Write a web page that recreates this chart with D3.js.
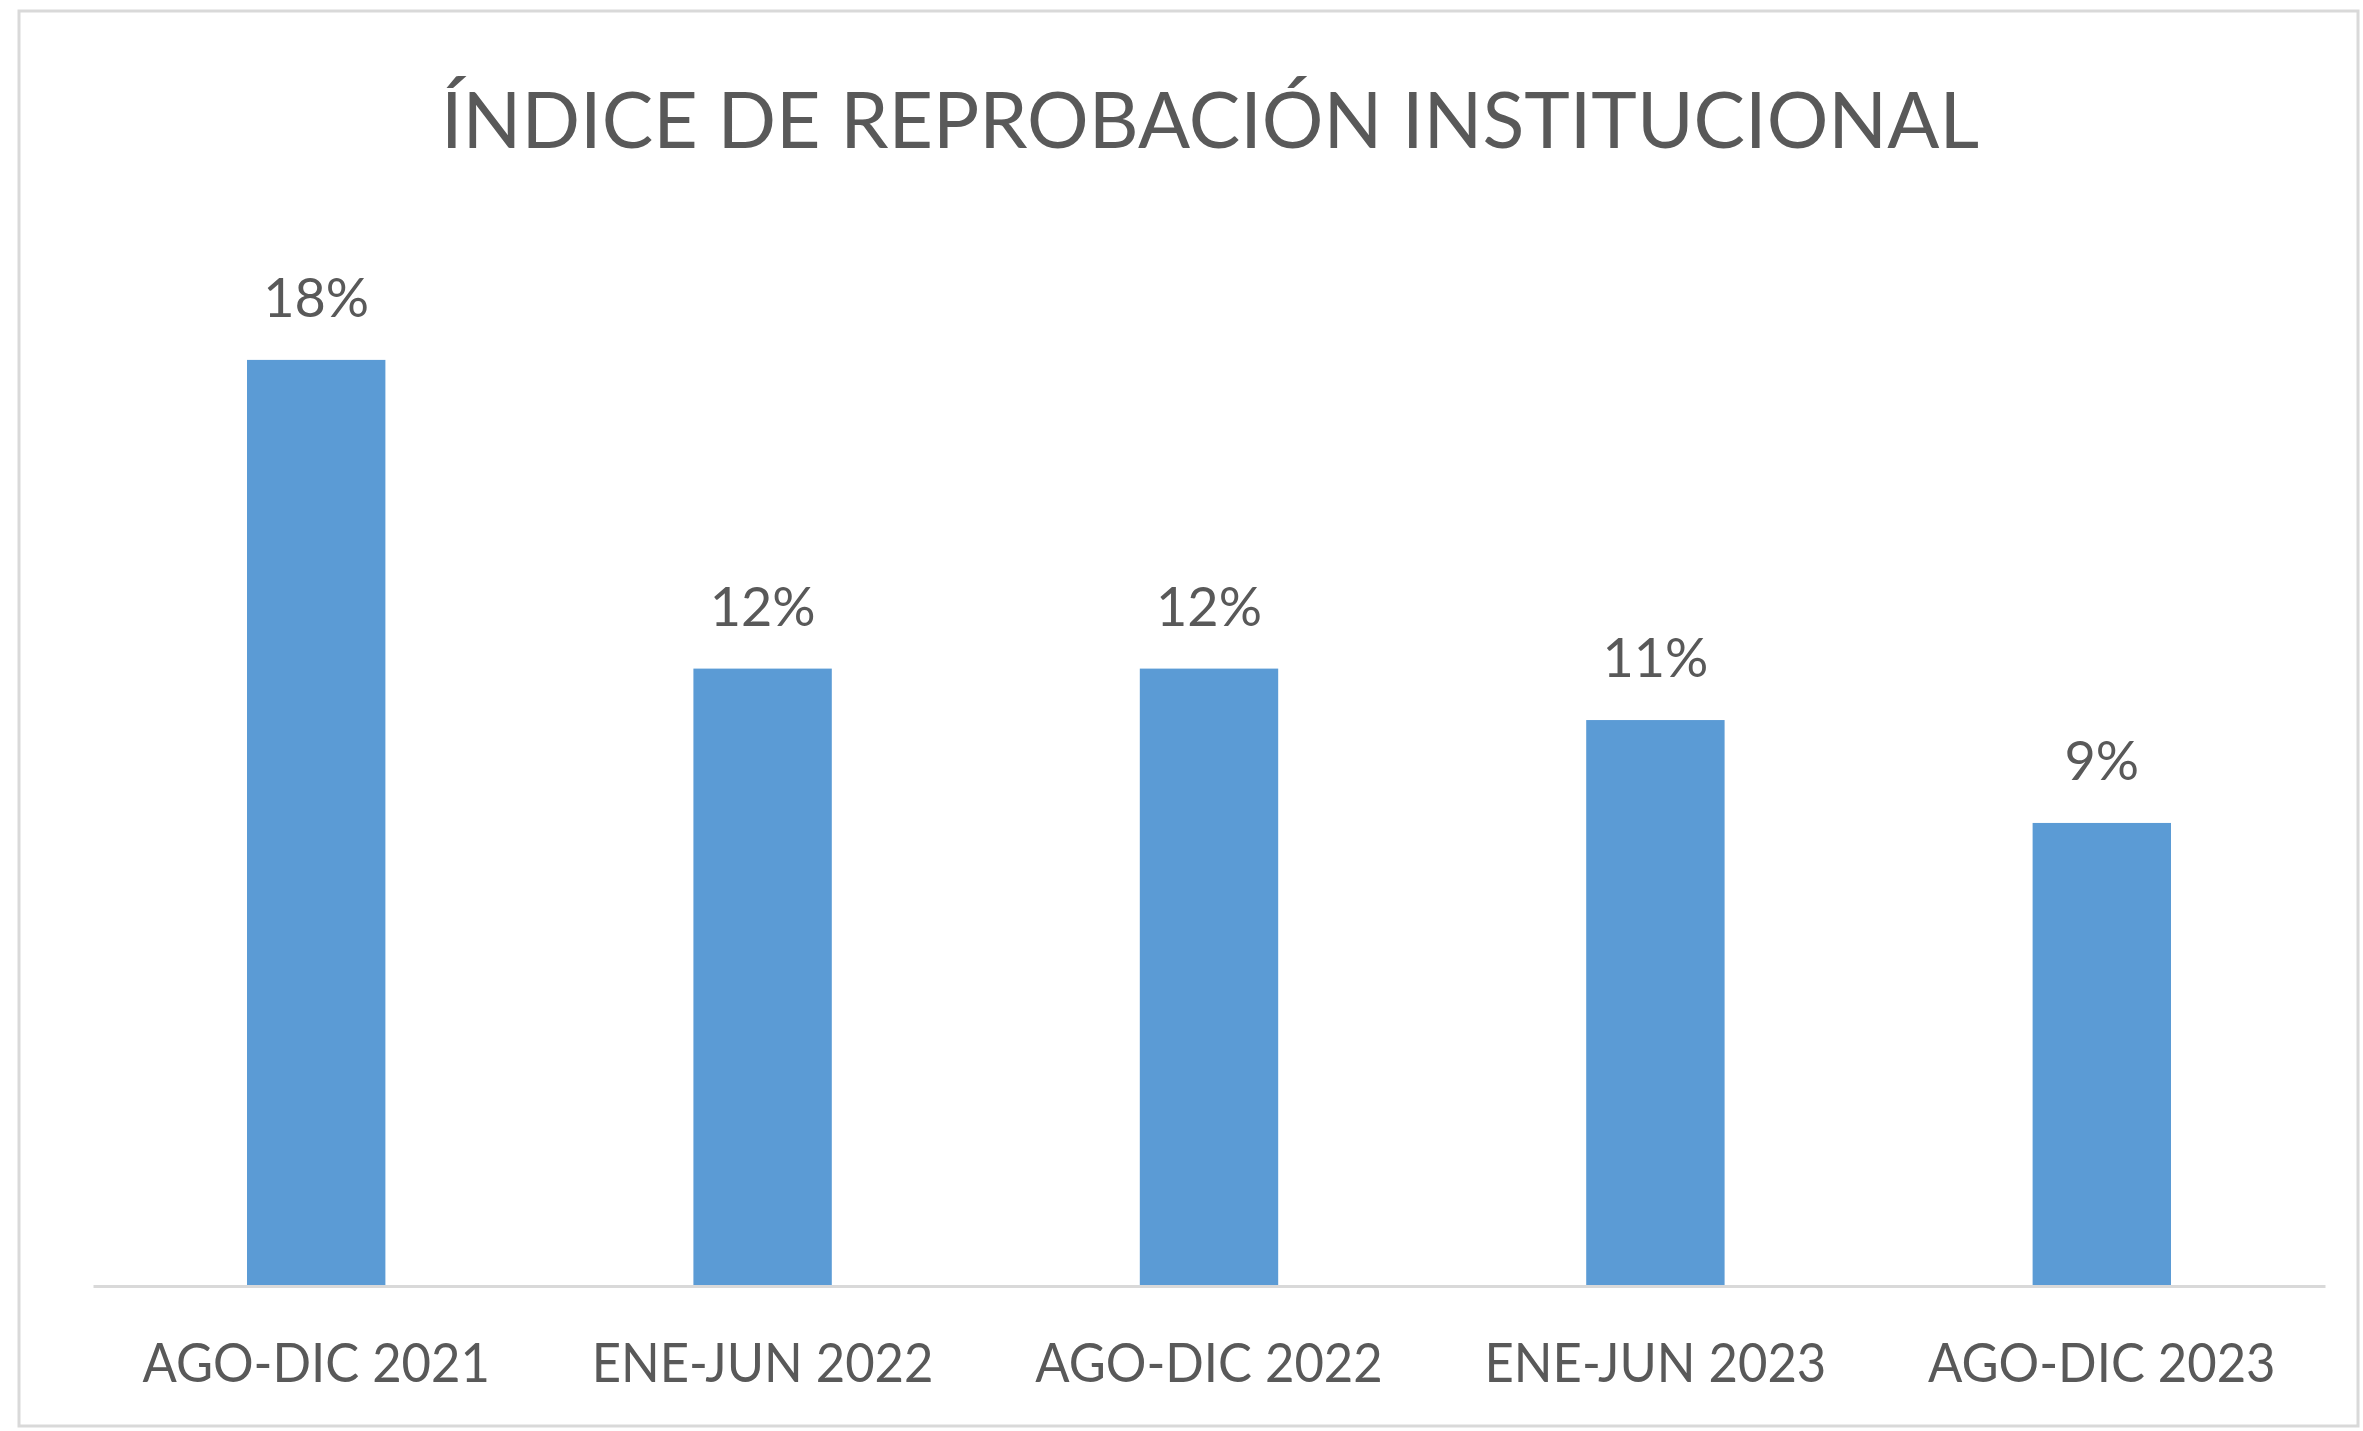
<!DOCTYPE html>
<html><head><meta charset="utf-8">
<script src="https://cdn.jsdelivr.net/npm/d3@7"></script>
<style>html,body{margin:0;padding:0;background:#fff;}svg{display:block;}</style>
</head><body>
<script>
const titleText = "ÍNDICE DE REPROBACIÓN INSTITUCIONAL";
const categories = ["AGO-DIC 2021","ENE-JUN 2022","AGO-DIC 2022","ENE-JUN 2023","AGO-DIC 2023"];
const values = [0.18, 0.12, 0.12, 0.11, 0.09];
const valueLabels = ["18%","12%","12%","11%","9%"];

const W = 2363, H = 1431;
const svg = d3.select("body").append("svg").attr("width", W).attr("height", H);
const font = "Lato, 'Open Sans', sans-serif";
const textColor = "#595959";

// chart border
svg.append("rect").attr("x", 19).attr("y", 11).attr("width", 2339).attr("height", 1415)
  .attr("fill", "#fff").attr("stroke", "#d9d9d9").attr("stroke-width", 3);

const x = d3.scaleBand().domain(categories).range([93, 2325]).paddingInner(0.69).paddingOuter(0.345);
const y = d3.scaleLinear().domain([0, 0.2]).range([1286, 257]);

// bars
svg.append("g").selectAll("rect").data(values).join("rect")
  .attr("x", (d,i) => x(categories[i]))
  .attr("y", d => y(d))
  .attr("width", x.bandwidth())
  .attr("height", d => y(0) - y(d))
  .attr("fill", "#5b9bd5");

// baseline axis
const axis = d3.axisBottom(x).tickSize(0).tickPadding(0);
const gAxis = svg.append("g").attr("transform", `translate(0,${y(0)})`).call(axis);
gAxis.select(".domain").attr("stroke", "#d9d9d9").attr("stroke-width", 3);
gAxis.selectAll(".tick text")
  .attr("y", 96).attr("dy", 0)
  .attr("font-family", font).attr("font-size", 54).attr("fill", textColor)
  .attr("text-anchor", "middle")
  .each(function(){ const w = this.getComputedTextLength(); d3.select(this).attr("textLength", w*0.94).attr("lengthAdjust","spacingAndGlyphs"); });

// value labels
svg.append("g").selectAll("text").data(values).join("text")
  .attr("x", (d,i) => x(categories[i]) + x.bandwidth()/2)
  .attr("y", d => y(d) - 43)
  .attr("text-anchor", "middle")
  .attr("font-family", font).attr("font-size", 54).attr("fill", textColor)
  .text((d,i) => valueLabels[i]);

// title
svg.append("text").attr("x", 1210).attr("y", 148).attr("text-anchor", "middle")
  .attr("font-family", font).attr("font-weight", 400).attr("font-size", 78).attr("fill", textColor)
  .attr("textLength", 1538).attr("lengthAdjust", "spacingAndGlyphs")
  .text(titleText);
</script>
</body></html>
